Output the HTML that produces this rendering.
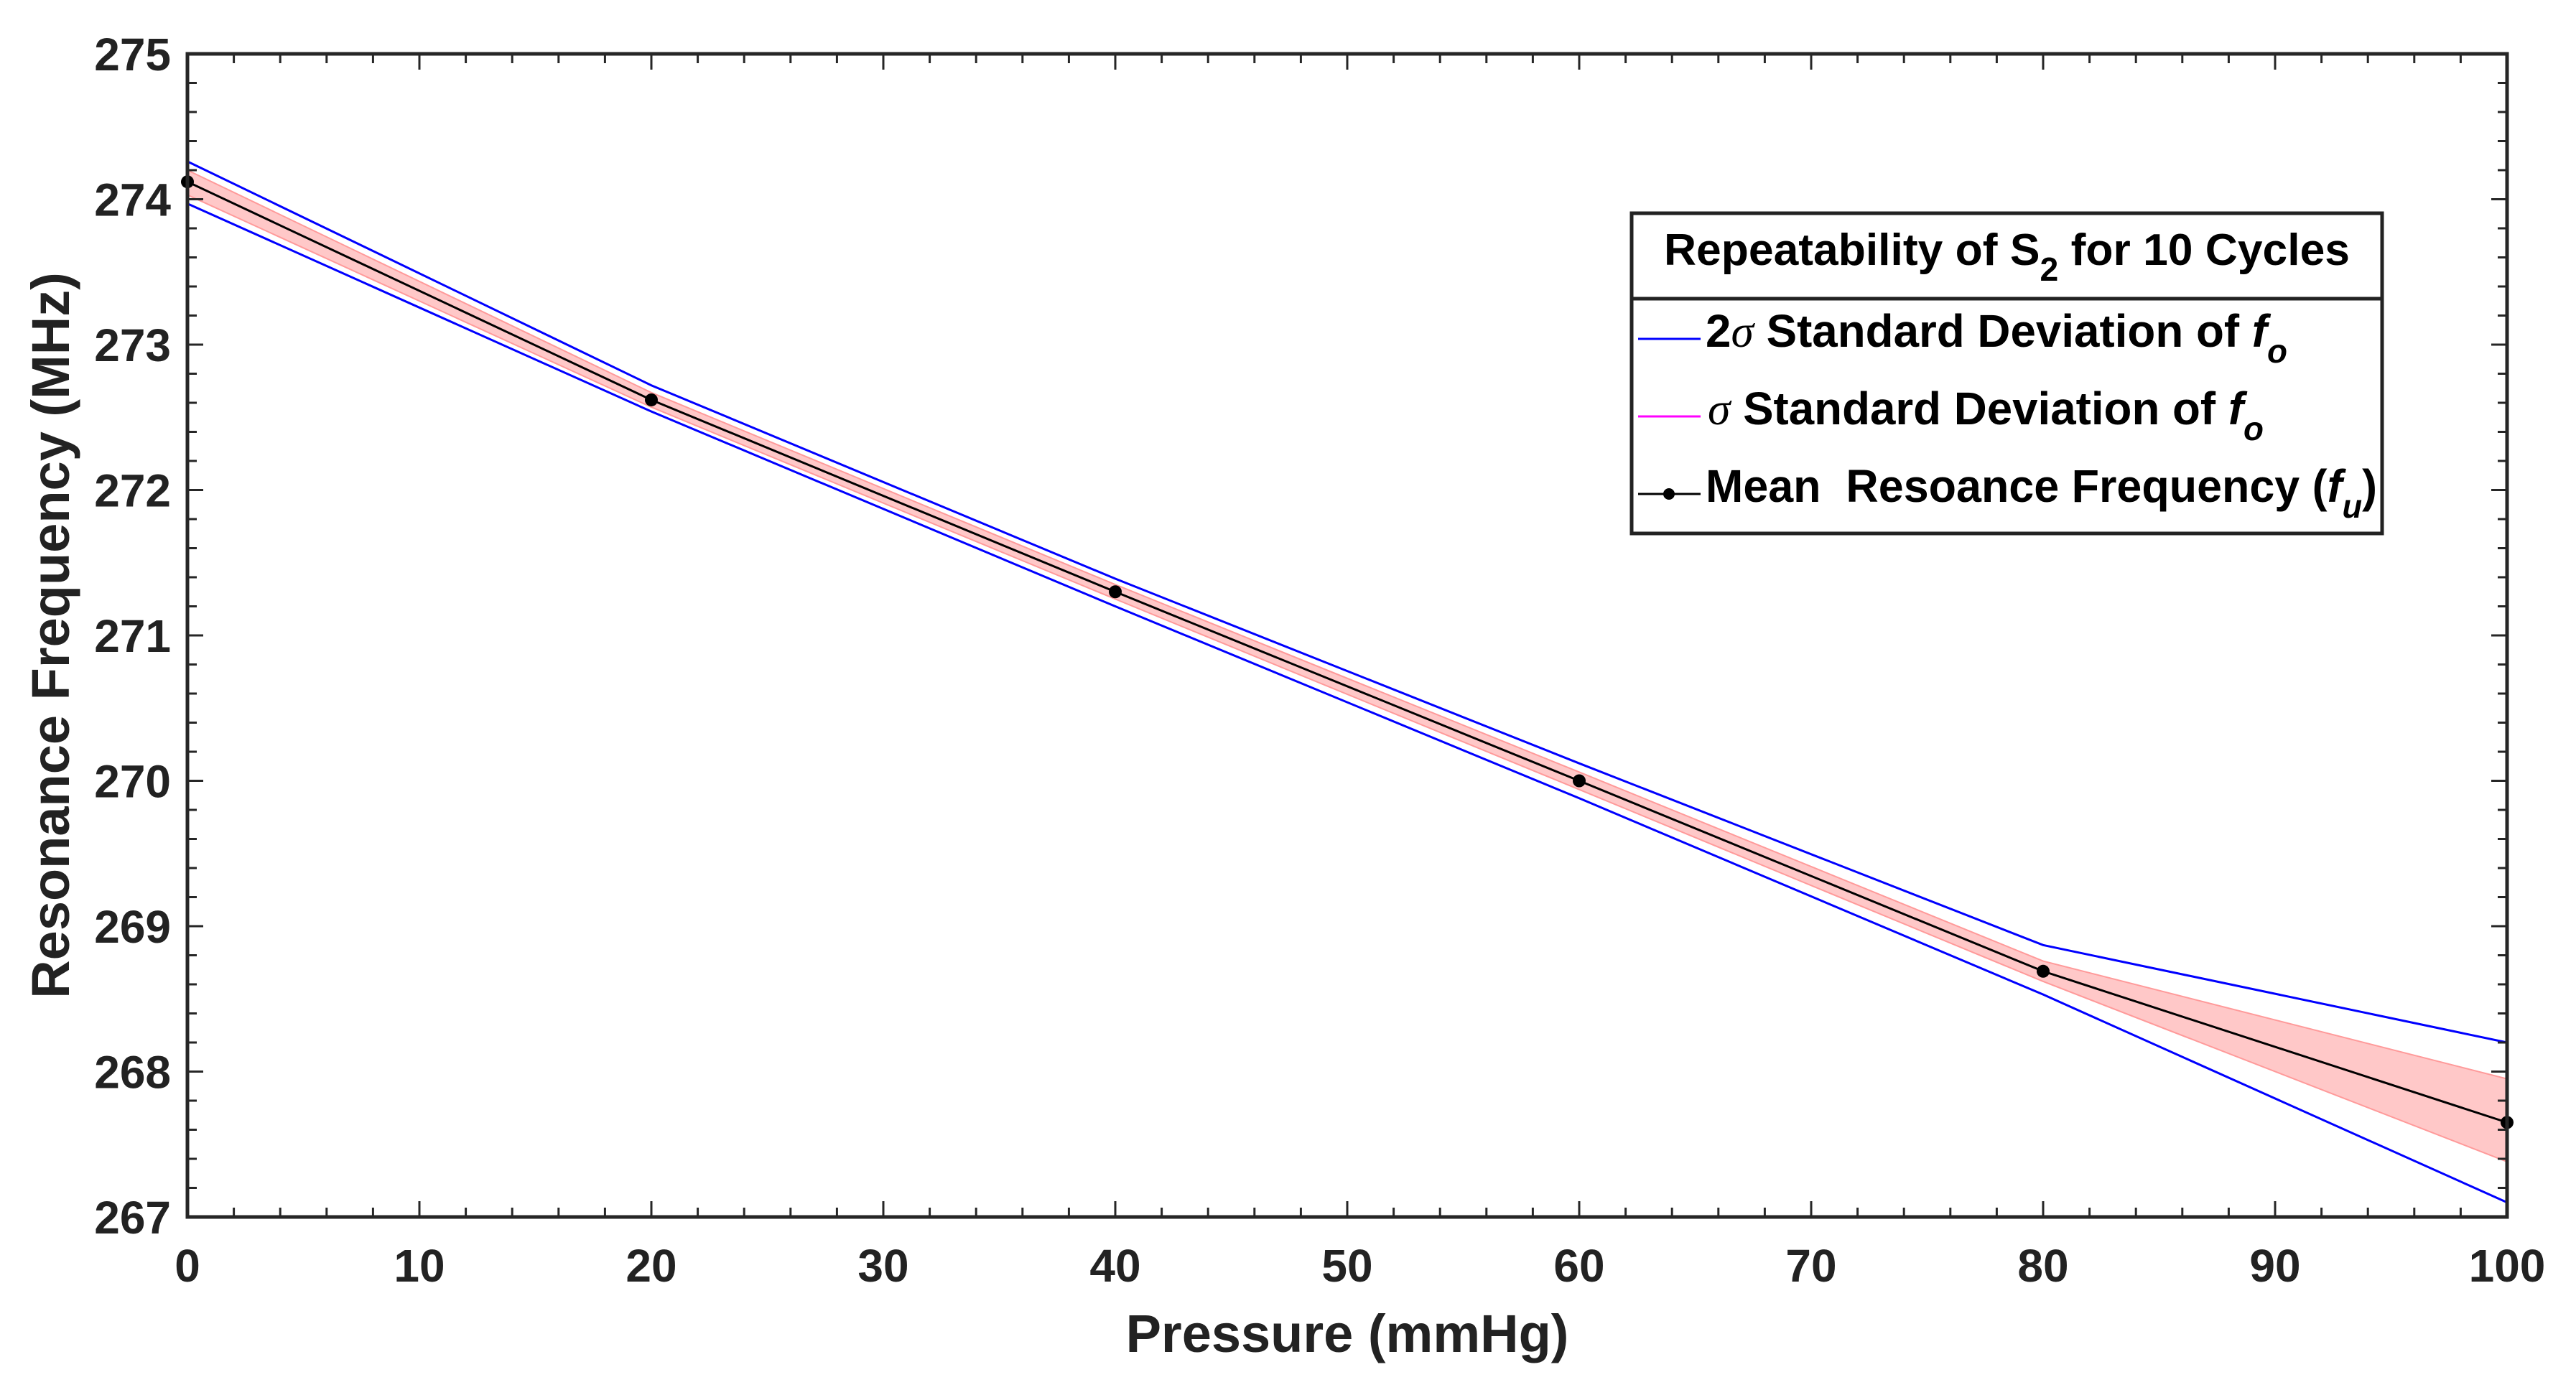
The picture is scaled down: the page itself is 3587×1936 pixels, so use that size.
<!DOCTYPE html>
<html><head><meta charset="utf-8">
<style>
html,body{margin:0;padding:0;background:#fff;}
svg{display:block;font-family:"Liberation Sans",Arial,sans-serif;font-weight:bold;}
</style></head>
<body>
<svg id="chart" width="3587" height="1936" viewBox="0 0 3587 1936" xmlns="http://www.w3.org/2000/svg">
<g id="plot"></g>
<g id="axes"></g>
<text x="1876" y="1883" font-size="74" text-anchor="middle" fill="#222">Pressure (mmHg)</text>
<text transform="translate(96,885) rotate(-90)" font-size="74" text-anchor="middle" fill="#222">Resonance Frequency (MHz)</text>
<g>
  <rect x="2272" y="297" width="1045" height="446" fill="#fff" stroke="#222" stroke-width="5"/>
  <line x1="2272" y1="416" x2="3317" y2="416" stroke="#222" stroke-width="5"/>
  <text x="2317" y="369" font-size="62" textLength="955" lengthAdjust="spacingAndGlyphs" fill="#000">Repeatability of S<tspan font-size="46" dy="22">2</tspan><tspan dy="-22"> for 10 Cycles</tspan></text>
  <g>
    <line x1="2281" y1="472" x2="2368" y2="472" stroke="#0000ff" stroke-width="3"/>
    <text x="2375" y="483" font-size="64" textLength="810" lengthAdjust="spacingAndGlyphs" fill="#000">2<tspan font-style="italic" font-family="Liberation Serif" font-weight="normal">σ</tspan> Standard Deviation of <tspan font-style="italic">f</tspan><tspan font-style="italic" font-size="46" dy="22">o</tspan></text>
  </g>
  <g>
    <line x1="2281" y1="580" x2="2368" y2="580" stroke="#ff00ff" stroke-width="3"/>
    <text x="2378" y="591" font-size="64" textLength="774" lengthAdjust="spacingAndGlyphs" fill="#000"><tspan font-style="italic" font-family="Liberation Serif" font-weight="normal">σ</tspan> Standard Deviation of <tspan font-style="italic">f</tspan><tspan font-style="italic" font-size="46" dy="22">o</tspan></text>
  </g>
  <g>
    <line x1="2281" y1="688" x2="2368" y2="688" stroke="#000" stroke-width="3"/>
    <circle cx="2324" cy="688" r="8" fill="#000"/>
    <text x="2375" y="699" font-size="64" textLength="935" lengthAdjust="spacingAndGlyphs" fill="#000" xml:space="preserve">Mean  Resoance Frequency (<tspan font-style="italic">f</tspan><tspan font-style="italic" font-size="46" dy="22">u</tspan><tspan dy="-22">)</tspan></text>
  </g>
</g>
</svg>
<script>
const pressure = [0, 20, 40, 60, 80, 100];
const meanFreq = [274.12, 272.62, 271.30, 270.00, 268.69, 267.65];
const sigmaUpper = [274.20, 272.67, 271.35, 270.06, 268.76, 267.95];
const sigmaLower = [274.03, 272.57, 271.25, 269.94, 268.62, 267.38];
const twoSigmaUpper = [274.26, 272.72, 271.39, 270.12, 268.87, 268.20];
const twoSigmaLower = [273.97, 272.54, 271.20, 269.88, 268.53, 267.10];
const xTicks = [0,10,20,30,40,50,60,70,80,90,100];
const yTicks = [267,268,269,270,271,272,273,274,275];

const L=261,R=3491,T=75,B=1695;
const xMin=0,xMax=100,yMin=267,yMax=275;
function sx(v){return L+(v-xMin)/(xMax-xMin)*(R-L);}
function sy(v){return B-(v-yMin)/(yMax-yMin)*(B-T);}
const NS='http://www.w3.org/2000/svg';
function mk(tag,attrs,parent){const e=document.createElementNS(NS,tag);for(const k in attrs)e.setAttribute(k,attrs[k]);parent.appendChild(e);return e;}
const plot=document.getElementById('plot');
const axes=document.getElementById('axes');

let pts=pressure.map((p,i)=>sx(p)+','+sy(sigmaUpper[i]));
for(let i=pressure.length-1;i>=0;i--)pts.push(sx(pressure[i])+','+sy(sigmaLower[i]));
const band=mk('polygon',{points:pts.join(' '),fill:'#ffc8c8',stroke:'#ff9a9a','stroke-width':2},plot);



function line(arr,color,w,name){
  const p=mk('polyline',{points:pressure.map((x,i)=>sx(x)+','+sy(arr[i])).join(' '),fill:'none',stroke:color,'stroke-width':w},plot);
  
  
}
line(twoSigmaUpper,'#0000ff',3,'two-sigma-upper-line');
line(twoSigmaLower,'#0000ff',3,'two-sigma-lower-line');
line(meanFreq,'#000',3,'mean-line');
pressure.forEach((p,i)=>{
  const c=mk('circle',{cx:sx(p),cy:sy(meanFreq[i]),r:9,fill:'#000'},plot);
  
  
});

mk('rect',{x:L,y:T,width:R-L,height:B-T,fill:'none',stroke:'#262626','stroke-width':5},axes);
for(let v=xMin;v<=xMax+1e-9;v+=2){
  const major=Math.abs(v%10)<1e-9;const len=major?22:13;
  mk('line',{x1:sx(v),y1:B,x2:sx(v),y2:B-len,stroke:'#262626','stroke-width':3},axes);
  mk('line',{x1:sx(v),y1:T,x2:sx(v),y2:T+len,stroke:'#262626','stroke-width':3},axes);
}
for(let k=0;k<=40;k++){
  const v=yMin+k*0.2;const major=k%5===0;const len=major?22:13;
  mk('line',{x1:L,y1:sy(v),x2:L+len,y2:sy(v),stroke:'#262626','stroke-width':3},axes);
  mk('line',{x1:R,y1:sy(v),x2:R-len,y2:sy(v),stroke:'#262626','stroke-width':3},axes);
}
xTicks.forEach(v=>{
  const t=mk('text',{x:sx(v),y:1785,'font-size':64,'text-anchor':'middle',fill:'#222'},axes);
  t.textContent=v;
  
  
});
yTicks.forEach(v=>{
  const t=mk('text',{x:238,y:sy(v)+23,'font-size':64,'text-anchor':'end',fill:'#222'},axes);
  t.textContent=v;
  
  
});
</script>
</body></html>
